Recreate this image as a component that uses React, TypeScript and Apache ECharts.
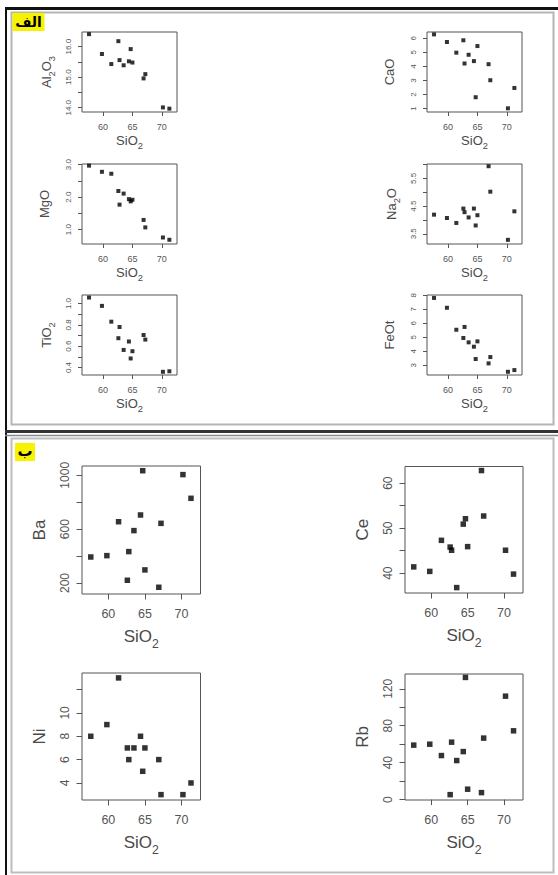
import React, { useEffect, useRef } from 'react';
import * as echarts from 'echarts';

// ---- data ----
const SIO2 = [57.6, 59.8, 61.4, 62.6, 62.8, 63.5, 64.4, 64.7, 65.0, 66.9, 67.2, 70.2, 71.3];
const AL2O3 = [16.41, 15.76, 15.43, 16.18, 15.56, 15.39, 15.52, 15.92, 15.48, 14.96, 15.1, 14.01, 13.97];
const CAO = [6.28, 5.74, 4.98, 5.86, 4.21, 4.83, 4.38, 1.81, 5.45, 4.16, 3.02, 1.02, 2.47];
const MGO = [2.97, 2.78, 2.72, 2.19, 1.77, 2.11, 1.94, 1.87, 1.92, 1.3, 1.07, 0.76, 0.69];
const NA2O = [4.19, 4.07, 3.89, 4.41, 4.28, 4.09, 4.41, 3.8, 4.17, 5.94, 5.02, 3.28, 4.31];
const TIO2 = [1.056, 0.978, 0.83, 0.675, 0.78, 0.565, 0.644, 0.485, 0.553, 0.705, 0.662, 0.36, 0.365];
const FEOT = [7.81, 7.11, 5.54, 4.95, 5.74, 4.64, 4.33, 3.45, 4.71, 3.14, 3.59, 2.54, 2.66];
const BA = [393, 403, 655, 220, 433, 589, 705, 1034, 297, 168, 643, 1005, 829];
const CE = [41.4, 40.4, 47.3, 45.8, 45.1, 36.8, 50.9, 52.1, 45.9, 62.8, 52.7, 45.1, 39.8];
const NI = [8, 9, 13, 7, 6, 7, 8, 5, 7, 6, 3, 3, 4];
const RB = [59, 60, 47.7, 5.4, 62.2, 42.3, 52, 132.3, 11.3, 7.6, 66.6, 112, 74.5];

// ---- tick values ----
const SIO2_TICKS = [60, 65, 70];
const AL2O3_TICKS = [14, 14.5, 15, 15.5, 16];
const AL2O3_LABELS = [14, 15, 16];
const CAO_TICKS = [1, 2, 3, 4, 5, 6];
const CAO_LABELS = [1, 2, 3, 4, 5, 6];
const MGO_TICKS = [1, 1.5, 2, 2.5, 3];
const MGO_LABELS = [1, 2, 3];
const NA2O_TICKS = [3.5, 4, 4.5, 5, 5.5, 6];
const NA2O_LABELS = [3.5, 4.5, 5.5];
const TIO2_TICKS = [0.4, 0.5, 0.6, 0.7, 0.8, 0.9, 1.0];
const TIO2_LABELS = [0.4, 0.6, 0.8, 1.0];
const FEOT_TICKS = [3, 4, 5, 6, 7, 8];
const FEOT_LABELS = [3, 4, 5, 6, 7, 8];
const BA_TICKS = [200, 400, 600, 800, 1000];
const BA_LABELS = [200, 600, 1000];
const CE_TICKS = [40, 45, 50, 55, 60];
const CE_LABELS = [40, 50, 60];
const NI_TICKS = [4, 6, 8, 10, 12];
const NI_LABELS = [4, 6, 8, 10];
const RB_TICKS = [0, 20, 40, 60, 80, 100, 120];
const RB_LABELS = [0, 40, 80, 120];

const X_RANGE = [56.4, 72.6];

// ---- layout table ----
const PANELS = [
  { name: '{n|Al}{s|2}{n|O}{s|3}', sub: true, values: AL2O3, ticks: AL2O3_TICKS, labels: AL2O3_LABELS, dec: 1, range: [13.86, 16.48], box: [82, 32, 95, 80], big: false },
  { name: '{n|CaO}', sub: false, values: CAO, ticks: CAO_TICKS, labels: CAO_LABELS, dec: 0, range: [0.76, 6.45], box: [427, 32, 95, 80], big: false },
  { name: '{n|MgO}', sub: false, values: MGO, ticks: MGO_TICKS, labels: MGO_LABELS, dec: 1, range: [0.56, 3.02], box: [82, 164, 95, 80], big: false },
  { name: '{n|Na}{s|2}{n|O}', sub: true, values: NA2O, ticks: NA2O_TICKS, labels: NA2O_LABELS, dec: 1, range: [3.13, 6.02], box: [427, 164, 95, 80], big: false },
  { name: '{n|TiO}{s|2}', sub: true, values: TIO2, ticks: TIO2_TICKS, labels: TIO2_LABELS, dec: 1, range: [0.33, 1.08], box: [82, 295, 95, 80], big: false },
  { name: '{n|FeOt}', sub: false, values: FEOT, ticks: FEOT_TICKS, labels: FEOT_LABELS, dec: 0, range: [2.31, 8.02], box: [427, 295, 95, 80], big: false },
  { name: '{n|Ba}', sub: false, values: BA, ticks: BA_TICKS, labels: BA_LABELS, dec: 0, range: [118, 1069], box: [82, 466, 118.5, 128], big: true },
  { name: '{n|Ce}', sub: false, values: CE, ticks: CE_TICKS, labels: CE_LABELS, dec: 0, range: [35.6, 63.7], box: [405, 466.5, 118, 126.5], big: true },
  { name: '{n|Ni}', sub: false, values: NI, ticks: NI_TICKS, labels: NI_LABELS, dec: 0, range: [2.54, 13.42], box: [82, 673, 118.5, 127], big: true },
  { name: '{n|Rb}', sub: false, values: RB, ticks: RB_TICKS, labels: RB_LABELS, dec: 0, range: [-0.4, 136], box: [405, 674, 118, 126], big: true },
];

const FONT = '"Liberation Sans", Arial, Helvetica, sans-serif';
const SMALL = { tick: 4, xLab: 9, yLab: 8, xMargin: 10.5, yMargin: 10, nameSize: 13, xNameGap: 19, yNameGapSub: 26, yNameGap: 31, sym: 4 };
const BIG = { tick: 5.5, xLab: 12.5, yLab: 12, xMargin: 13, yMargin: 11, nameSize: 17, xNameGap: 30, yNameGapSub: 30, yNameGap: 34.5, sym: 5.5 };
const BOX_COLOR = '#555';
const LABEL_COLOR = '#555';
const NAME_COLOR = '#4a4a4a';

function richName(size: number) {
  return {
    rich: {
      n: { fontSize: size, fontFamily: FONT, color: NAME_COLOR, verticalAlign: 'middle' },
      s: { fontSize: size * 0.72, fontFamily: FONT, color: NAME_COLOR, verticalAlign: 'middle', padding: [size * 0.8, 0, 0, 0] },
    },
  };
}

function buildOption() {
  const grid: any[] = [];
  const xAxis: any[] = [];
  const yAxis: any[] = [];
  const series: any[] = [];
  PANELS.forEach((p, i) => {
    const st = p.big ? BIG : SMALL;
    grid.push({
      left: p.box[0], top: p.box[1], width: p.box[2], height: p.box[3],
      show: true, borderColor: BOX_COLOR, borderWidth: 1, backgroundColor: 'transparent',
      containLabel: false, outerBoundsMode: 'none',
    });
    xAxis.push({
      type: 'value', gridIndex: i, min: X_RANGE[0], max: X_RANGE[1],
      axisLine: { show: false }, splitLine: { show: false },
      axisTick: { show: true, inside: false, length: st.tick, lineStyle: { color: BOX_COLOR, width: 1 }, customValues: SIO2_TICKS },
      axisLabel: { customValues: SIO2_TICKS, fontSize: st.xLab, fontFamily: FONT, color: LABEL_COLOR, margin: st.xMargin, formatter: (v: number) => String(v) },
      name: '{n|SiO}{s|2}', nameLocation: 'middle', nameGap: st.xNameGap,
      nameTextStyle: richName(st.nameSize),
    });
    yAxis.push({
      type: 'value', gridIndex: i, min: p.range[0], max: p.range[1],
      axisLine: { show: false }, splitLine: { show: false },
      axisTick: { show: true, inside: false, length: st.tick, lineStyle: { color: BOX_COLOR, width: 1 }, customValues: p.ticks },
      axisLabel: {
        customValues: p.labels, fontSize: st.yLab, fontFamily: FONT, color: LABEL_COLOR, margin: st.yMargin, rotate: 90,
        formatter: (v: number) => (p.dec ? Number(v).toFixed(p.dec) : String(Math.round(v))),
      },
      name: p.name, nameLocation: 'middle', nameGap: p.sub ? st.yNameGapSub : st.yNameGap, nameRotate: 90,
      nameTextStyle: richName(st.nameSize),
    });
    series.push({
      type: 'scatter', xAxisIndex: i, yAxisIndex: i, silent: true,
      data: SIO2.map((x, k) => [x, p.values[k]]),
      symbol: 'rect', symbolSize: st.sym, itemStyle: { color: '#000' },
    });
  });

  const graphic: any[] = [
    // outer frame
    { type: 'line', silent: true, shape: { x1: 6, y1: 7, x2: 6, y2: 875 }, style: { stroke: '#111', lineWidth: 2 } },
    { type: 'line', silent: true, shape: { x1: 5, y1: 8.5, x2: 558, y2: 8.5 }, style: { stroke: '#111', lineWidth: 3 } },
    // top panel frame
    { type: 'rect', silent: true, shape: { x: 11.5, y: 12.5, width: 542, height: 412 }, style: { fill: 'none', stroke: '#b5b5b5', lineWidth: 2 } },
    // separator
    { type: 'line', silent: true, shape: { x1: 5, y1: 431.5, x2: 558, y2: 431.5 }, style: { stroke: '#333', lineWidth: 3 } },
    { type: 'line', silent: true, shape: { x1: 5, y1: 435.5, x2: 558, y2: 435.5 }, style: { stroke: '#888', lineWidth: 1.5 } },
    // bottom panel frame
    { type: 'rect', silent: true, shape: { x: 11.5, y: 438.5, width: 542, height: 434 }, style: { fill: 'none', stroke: '#bdbdbd', lineWidth: 2 } },
    // panel tags
    { type: 'rect', silent: true, shape: { x: 12.5, y: 13, width: 32, height: 18 }, style: { fill: '#f7f200' } },
    { type: 'text', silent: true, x: 28.5, y: 22, style: { text: 'الف', fontSize: 14, fontWeight: 'bold', fontFamily: '"DejaVu Sans", sans-serif', fill: '#000', align: 'center', verticalAlign: 'middle' } },
    { type: 'rect', silent: true, shape: { x: 15, y: 443, width: 20, height: 18 }, style: { fill: '#f7f200' } },
    { type: 'text', silent: true, x: 25, y: 451, style: { text: 'ب', fontSize: 15, fontWeight: 'bold', fontFamily: '"DejaVu Sans", sans-serif', fill: '#000', align: 'center', verticalAlign: 'middle' } },
  ];

  return { animation: false, backgroundColor: '#fff', grid, xAxis, yAxis, series, graphic };
}

export default function App() {
  const ref = useRef<HTMLDivElement>(null);
  useEffect(() => {
    document.body.style.margin = '0';
    if (!ref.current) return;
    const chart = echarts.init(ref.current, undefined, { renderer: 'svg' });
    chart.setOption(buildOption() as any);
    return () => chart.dispose();
  }, []);
  return <div ref={ref} style={{ width: 558, height: 875 }} />;
}
